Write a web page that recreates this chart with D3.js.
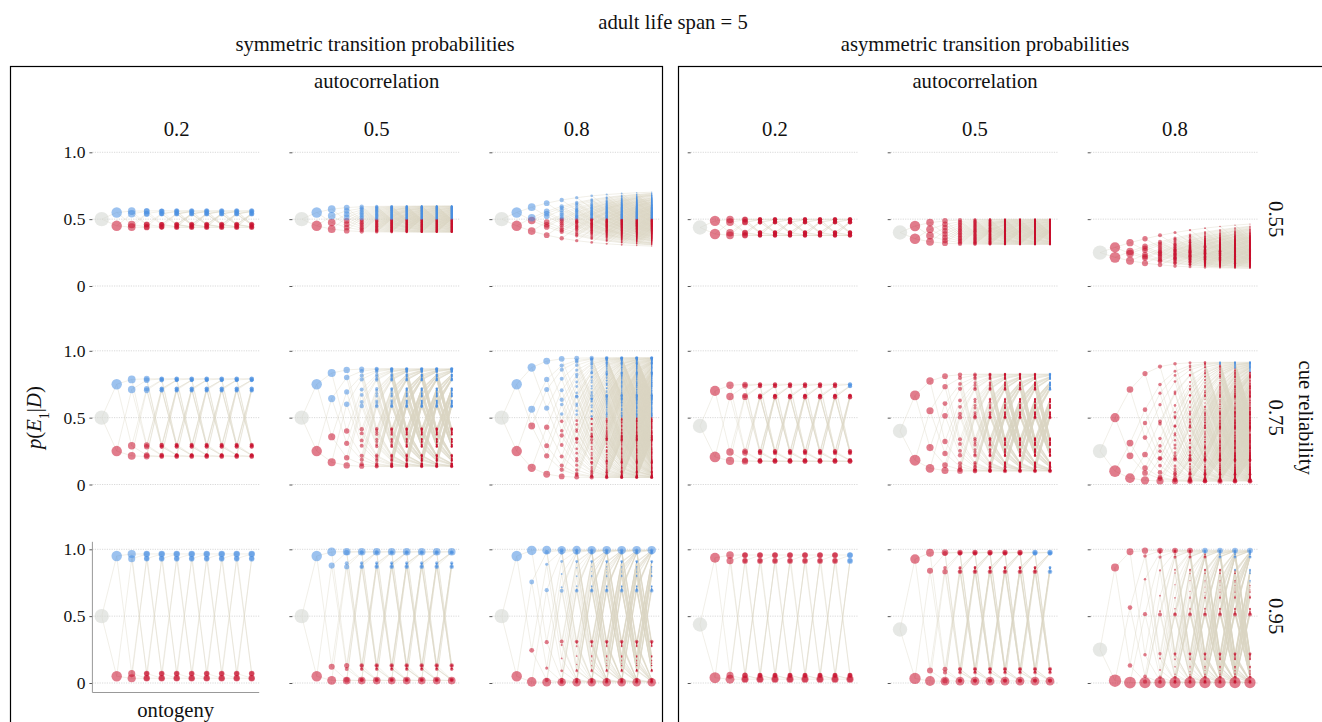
<!DOCTYPE html>
<html><head><meta charset="utf-8">
<script src="https://cdn.jsdelivr.net/npm/d3@7"></script>
<style>
body{margin:0;background:#fff}
text{font-family:"Liberation Serif","Times New Roman",serif;fill:#111}
</style>
</head><body>
<svg id="chart" width="1322" height="722"></svg>
<script>
// ---------------- data ----------------
const chartTitle = "adult life span = 5";
const transitionTypes = ["symmetric", "asymmetric"];
const transitionTitles = ["symmetric transition probabilities", "asymmetric transition probabilities"];
const autocorrelations = [0.2, 0.5, 0.8];
const autocorrelationLabels = ["0.2", "0.5", "0.8"];
const cueReliabilities = [0.55, 0.75, 0.95];
const cueReliabilityLabels = ["0.55", "0.75", "0.95"];
const ontogenySteps = [0, 1, 2, 3, 4, 5, 6, 7, 8, 9, 10];
const yTicks = [0, 0.5, 1];
const yTickLabels = ["0", "0.5", "1.0"];
// probability that the environment stays the same between steps (per autocorrelation)
const symStayE1 = [0.6, 0.75, 0.9];
const symStayE2 = [0.6, 0.75, 0.9];
const asymStayE1 = [0.55, 0.7, 0.85];
const asymStayE2 = [0.65, 0.8, 0.95];
// decision boundary: belief in E1 above which the E1 phenotype (blue) is chosen
const symBlueThreshold = 0.5;
// asymmetric panels: thresholds at ontogeny steps 7,8,9,10 (null = red only), per autocorrelation
const asymBlueSteps = [7, 8, 9, 10];
const asymBlueR055 = [[null, null, null, null], [null, null, null, null], [null, null, null, null]];
const asymBlueR075 = [[null, null, null, 0.72], [null, null, null, 0.68], [null, 0.9, 0.87, 0.84]];
const asymBlueR095 = [[null, null, null, 0.9], [null, null, 0.95, 0.8], [0.97, 0.9, 0.84, 0.75]];
const asymBlueByReliability = [asymBlueR055, asymBlueR075, asymBlueR095];

// ---------------- layout / style ----------------
const svg = d3.select("#chart");
const groupX0 = [101.7, 700];
const colStep = 200;
const rowY1 = [152.3, 350.8, 549.3];
const rowH = 133.7;
const RED = "#c8102e", BLUE = "#4a90e2", GRAY = "#d6d9d4", EDGE = "#d9d4c2";
const FS = "20.7px";

// titles
svg.append("text").attr("x", 673).attr("y", 29).attr("text-anchor", "middle")
  .style("font-size", FS).text(chartTitle);
const groupTitleX = [375, 985];
transitionTitles.forEach((t, g) => {
  svg.append("text").attr("x", groupTitleX[g]).attr("y", 51).attr("text-anchor", "middle")
    .style("font-size", FS).text(t);
});
// boxes
svg.append("rect").attr("x", 10.5).attr("y", 66.5).attr("width", 652).attr("height", 700)
  .attr("fill", "none").attr("stroke", "#000").attr("stroke-width", 1.2);
svg.append("rect").attr("x", 678.5).attr("y", 66.5).attr("width", 700).attr("height", 700)
  .attr("fill", "none").attr("stroke", "#000").attr("stroke-width", 1.2);

// group subtitles & column labels
transitionTypes.forEach((tt, g) => {
  svg.append("text").attr("x", groupX0[g] + colStep + 75).attr("y", 88).attr("text-anchor", "middle")
    .style("font-size", FS).text("autocorrelation");
  autocorrelationLabels.forEach((lab, c) => {
    svg.append("text").attr("x", groupX0[g] + c * colStep + 75).attr("y", 136).attr("text-anchor", "middle")
      .style("font-size", FS).text(lab);
  });
});

// right strip labels
cueReliabilityLabels.forEach((lab, r) => {
  const yc = rowY1[r] + rowH / 2;
  svg.append("text").attr("transform", `translate(1269,${yc}) rotate(90)`).attr("text-anchor", "middle")
    .style("font-size", FS).text(lab);
});
svg.append("text").attr("transform", `translate(1299,${rowY1[1] + rowH / 2}) rotate(90)`)
  .attr("text-anchor", "middle").style("font-size", FS).text("cue reliability");

// y axis title
const yt = svg.append("text").attr("transform", `translate(41,${rowY1[1] + rowH / 2}) rotate(-90)`)
  .attr("text-anchor", "middle").style("font-size", FS);
yt.append("tspan").style("font-style", "italic").text("p");
yt.append("tspan").text("(");
yt.append("tspan").style("font-style", "italic").text("E");
yt.append("tspan").attr("baseline-shift", "sub").style("font-size", "14px").text("1");
yt.append("tspan").text("|");
yt.append("tspan").style("font-style", "italic").text("D");
yt.append("tspan").text(")");

// x axis title
svg.append("text").attr("x", groupX0[0] + 74).attr("y", 717).attr("text-anchor", "middle")
  .style("font-size", FS).text("ontogeny");

// ---------------- belief tree (Bayesian updating of cue sequences) ----------------
function buildTree(stay1, stay2, rel) {
  const pi1 = (1 - stay2) / ((1 - stay1) + (1 - stay2));
  const levels = [[{ t: 0, b: pi1, p: 1, parent: null }]];
  for (let t = 1; t < ontogenySteps.length; t++) {
    const next = [];
    for (const nd of levels[t - 1]) {
      const pr = nd.b * stay1 + (1 - nd.b) * (1 - stay2);
      const pc1 = pr * rel + (1 - pr) * (1 - rel);
      next.push({ t, b: pr * rel / pc1, p: nd.p * pc1, parent: nd });
      next.push({ t, b: pr * (1 - rel) / (1 - pc1), p: nd.p * (1 - pc1), parent: nd });
    }
    levels.push(next);
  }
  return levels;
}
// merge paths that reach the same belief (3 decimals) at a step, summing their probability
function mergeNodes(levels) {
  const out = [];
  levels.forEach(lv => {
    const m = new Map();
    lv.forEach(n => {
      const k = Math.round(n.b * 1000);
      if (!m.has(k)) m.set(k, { t: n.t, b: n.b, p: 0 });
      m.get(k).p += n.p;
    });
    out.push(...m.values());
  });
  return out;
}

// circle radius: area proportional to probability of reaching the belief state
const rScale = d3.scaleSqrt().domain([0, 1]).range([0.45, 7.2]);

transitionTypes.forEach((tt, g) => {
  cueReliabilities.forEach((rel, r) => {
    autocorrelations.forEach((ac, c) => {
      const x0 = groupX0[g] + c * colStep;
      const x = d3.scaleLinear().domain([0, 10]).range([x0, x0 + 150]);
      const y = d3.scaleLinear().domain([0, 1]).range([rowY1[r] + rowH, rowY1[r]]);
      const panel = svg.append("g");
      const xl = x(-0.62), xr = x(10.5);
      // gridlines
      panel.selectAll("line.grid").data(yTicks).join("line")
        .attr("x1", xl).attr("x2", xr).attr("y1", d => y(d)).attr("y2", d => y(d))
        .attr("stroke", "#cfcfcf").attr("stroke-width", 0.8).attr("stroke-dasharray", "1.2,1.2");
      // axis ticks
      const ax = d3.axisLeft(y).tickValues(yTicks).tickSize(3).tickPadding(4)
        .tickFormat((d, i) => (g === 0 && c === 0) ? yTickLabels[i] : "");
      const axG = panel.append("g").attr("transform", `translate(${xl},0)`).call(ax);
      axG.select(".domain").remove();
      axG.selectAll(".tick line").attr("stroke", "#555");
      axG.selectAll(".tick text").style("font-family", '"Liberation Serif",serif').style("font-size", "17.5px").attr("fill", "#111");
      if (g === 0 && c === 0 && r === 2) {
        panel.append("line").attr("x1", xl).attr("x2", xl).attr("y1", y(1) - 7.5).attr("y2", y(0) + 9.5)
          .attr("stroke", "#999").attr("stroke-width", 1);
        panel.append("line").attr("x1", xl).attr("x2", xr).attr("y1", y(0) + 9.5).attr("y2", y(0) + 9.5)
          .attr("stroke", "#999").attr("stroke-width", 1);
      }
      const stay1 = tt === "symmetric" ? symStayE1[c] : asymStayE1[c];
      const stay2 = tt === "symmetric" ? symStayE2[c] : asymStayE2[c];
      const levels = buildTree(stay1, stay2, rel);
      // edges: unique parent->child segments (beliefs merged to 0.005 bins)
      const seen = new Set();
      const edges = [];
      levels.slice(1).flat().forEach(n => {
        const key = n.t + "|" + Math.round(n.parent.b * 200) + "|" + Math.round(n.b * 200);
        if (!seen.has(key)) { seen.add(key); edges.push(n); }
      });
      panel.append("g").selectAll("line").data(edges).join("line")
        .attr("x1", d => x(d.parent.t)).attr("y1", d => y(d.parent.b))
        .attr("x2", d => x(d.t)).attr("y2", d => y(d.b))
        .attr("stroke", EDGE).attr("stroke-opacity", 0.5).attr("stroke-width", 0.75);
      // nodes
      const colorOf = n => {
        if (n.t === 0) return GRAY;
        if (tt === "symmetric") return n.b > symBlueThreshold ? BLUE : RED;
        const k = asymBlueSteps.indexOf(n.t);
        if (k < 0) return RED;
        const th = asymBlueByReliability[r][c][k];
        return (th !== null && n.b > th) ? BLUE : RED;
      };
      panel.append("g").selectAll("circle").data(mergeNodes(levels)).join("circle")
        .attr("cx", d => x(d.t)).attr("cy", d => y(d.b)).attr("r", d => rScale(d.p))
        .attr("fill", colorOf).attr("fill-opacity", d => d.t === 0 ? 0.6 : 0.55);
    });
  });
});
</script>
</body></html>
